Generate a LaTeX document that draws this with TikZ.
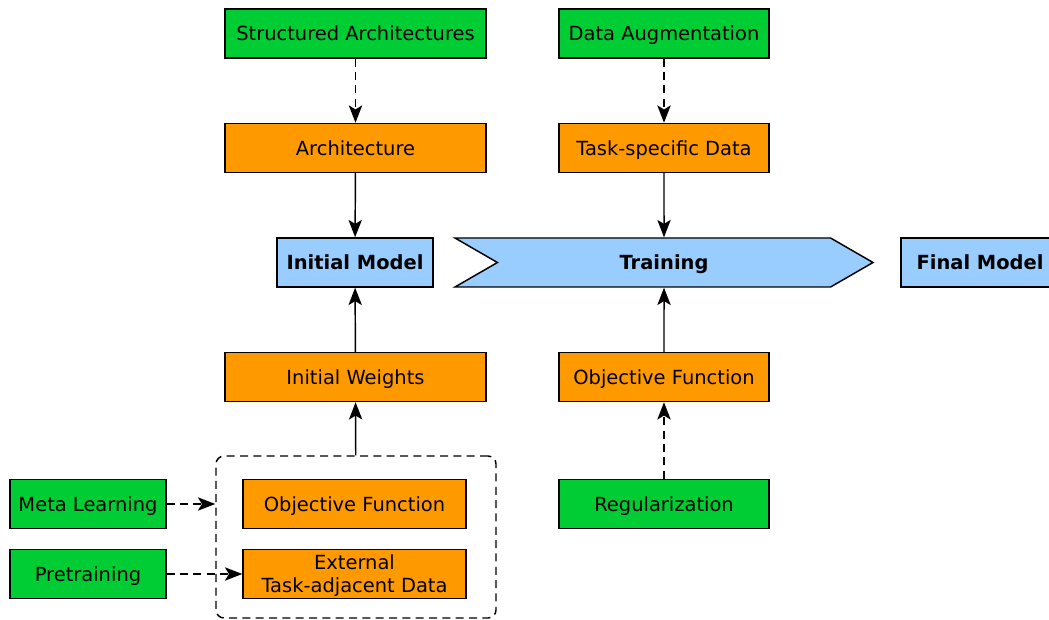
\documentclass[tikz,border=0pt]{standalone}
\usepackage{fontspec}
\setmainfont{DejaVu Sans}
\usetikzlibrary{arrows.meta,fit,shapes.symbols}
\definecolor{srcgreen}{RGB}{0,204,51}
\definecolor{partorange}{RGB}{255,153,0}
\definecolor{modelblue}{RGB}{153,204,255}

\begin{document}
\begin{tikzpicture}[x=0.75pt, y=-0.75pt, line width=1.1pt,
    every node/.style={font=\fontsize{14.6}{17}\selectfont, align=center, inner sep=0pt,
                       text height=10.6pt, text depth=0pt},
    box/.style={draw, rectangle, minimum height=36.75pt},
    source/.style={box, fill=srcgreen},
    part/.style={box, fill=partorange},
    model/.style={box, fill=modelblue, font=\fontsize{14.6}{17}\selectfont\bfseries},
    link/.style={-{Stealth[length=13pt,width=10pt,inset=3pt]}},
    hint/.style={link, dash pattern=on 6pt off 4pt}]
      \clip (0,0) rectangle (1049,620);
      \fill[white] (0,0) rectangle (1049,620);
      % what feeds the model
      \node[source, minimum width=195.75pt] (sarch) at (355.5,33.5) {Structured Architectures};
      \node[source, minimum width=157.5pt] (daug) at (664,33.5) {Data Augmentation};
      \node[part, minimum width=195.75pt] (arch) at (355.5,148) {Architecture};
      \node[part, minimum width=157.5pt] (tdata) at (664,148) {Task-specific Data};
      % model row
      \node[model, minimum width=117pt] (init) at (355,262.5) {Initial Model};
      \node[model, shape=signal, signal from=west, signal to=east, signal pointer angle=60,
            minimum width=313.5pt] (train) at (664,262.5) {Training};
      \node[model, minimum width=118.5pt] (final) at (980,262.5) {Final Model};
      % below the model row
      \node[part, minimum width=195.75pt] (iwts) at (355.5,377) {Initial Weights};
      \node[part, minimum width=157.5pt] (tobj) at (664,377) {Objective Function};
      \node[source, minimum width=157.5pt] (reg) at (664,504) {Regularization};
      \node[part, minimum width=167.25pt] (pobj) at (354.5,504) {Objective Function};
      \node[part, minimum width=167.25pt, text height=27.6pt] (ext) at (354.5,574) {External\\Task-adjacent Data};
      \node[source, minimum width=117pt] (meta) at (88,504) {Meta Learning};
      \node[source, minimum width=117pt] (pre) at (88,574) {Pretraining};
      \node[draw, dash pattern=on 6pt off 4pt, rounded corners=6pt, text height=0pt,
            fit={(216,456) (496,618)}] (pregroup) {};

      \draw[hint] (sarch) -- (arch);
      \draw[hint] (daug) -- (tdata);
      \draw[link] (arch) -- (init);
      \draw[link] (tdata) -- (train);
      \draw[link] (iwts) -- (init);
      \draw[link] (tobj) -- (train);
      \draw[link] (pregroup) -- (iwts);
      \draw[hint] (reg) -- (tobj);
      \draw[hint] (meta) -- (meta -| pregroup.west);
      \draw[hint] (pre) -- (ext);
    \end{tikzpicture}
\end{document}
